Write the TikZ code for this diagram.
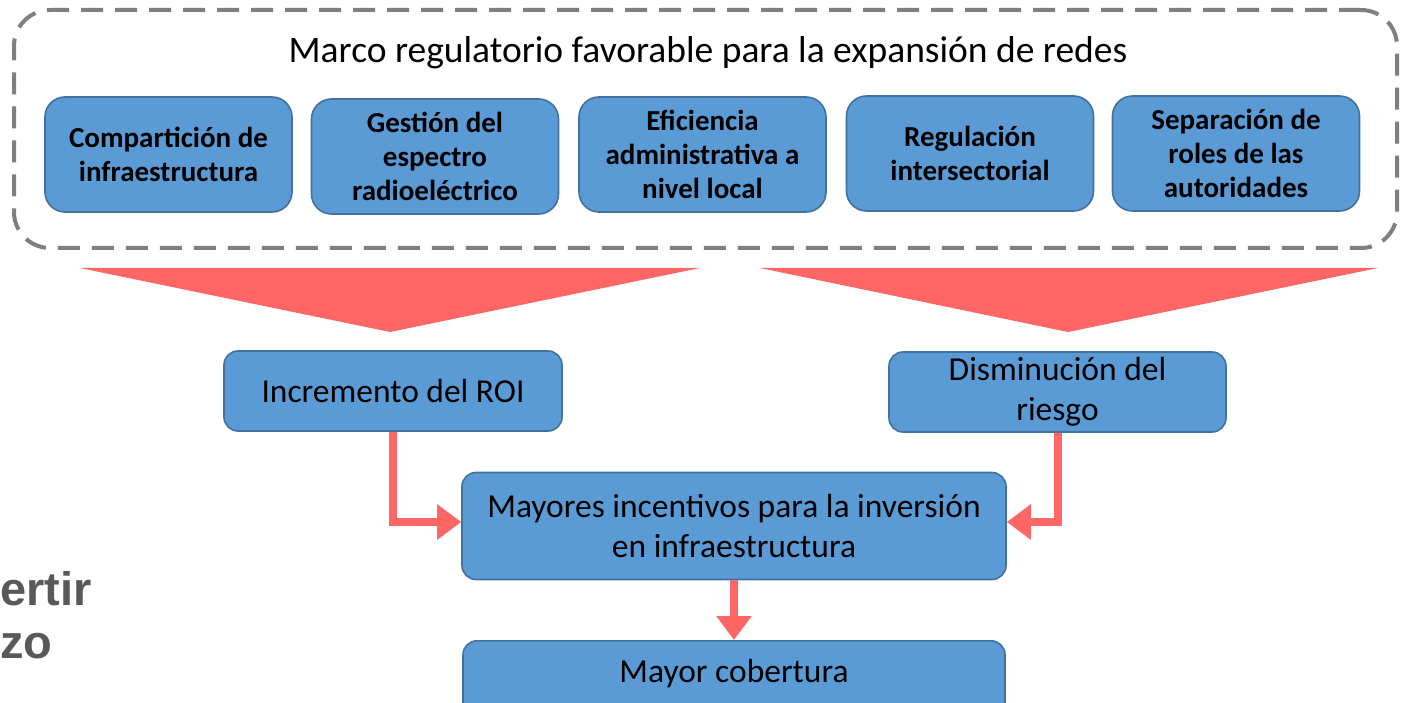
\documentclass[tikz,border=0pt]{standalone}
\usepackage{fontspec}
\setmainfont{Carlito}
\newfontfamily\arialbold{Liberation Sans}[BoldFont={* Bold}]
\usetikzlibrary{arrows.meta}
\definecolor{boxblue}{HTML}{5B9BD5}
\definecolor{boxedge}{HTML}{41719C}
\definecolor{arrowred}{HTML}{FF6666}
\definecolor{dashgray}{HTML}{7F7F7F}
\definecolor{slidegray}{HTML}{595959}
\tikzset{
  topbox/.style={draw=boxedge, fill=boxblue, line width=1.6pt, rounded corners=20pt,
    minimum width=247pt, minimum height=115pt, align=center, inner sep=2pt,
    font=\fontsize{29}{34}\selectfont\bfseries},
  midbox/.style={draw=boxedge, fill=boxblue, line width=1.6pt, rounded corners=14pt,
    align=center, inner sep=2pt, font=\fontsize{33.5}{40}\selectfont},
  frame/.style={draw=dashgray, line width=4pt, rounded corners=36pt, dash pattern=on 22pt off 12pt},
  redarrow/.style={draw=arrowred, line width=8pt, -{Triangle[width=34pt,length=24pt]}},
  bigtri/.style={fill=arrowred},
  slidetext/.style={font=\arialbold\bfseries\fontsize{47}{53}\selectfont, text=slidegray, anchor=base west, inner sep=0pt}
}
\begin{document}
\begin{tikzpicture}[x=1pt,y=-1pt]
\clip (0,0) rectangle (1401,703);
\fill[white] (0,0) rectangle (1401,703);

% dashed frame
\node[frame, minimum width=1383pt, minimum height=238pt] (frame) at (705.5,129) {};
\node[font=\fontsize{37.5}{44}\selectfont, anchor=base] (title) at (708,63) {Marco regulatorio favorable para la expansión de redes};

% top boxes
\node[topbox] (b1) at (168.5,154.5) {Compartición de\\infraestructura};
\node[topbox] (b2) at (435,156.5) {Gestión del\\espectro\\radioeléctrico};
\node[topbox] (b3) at (702.5,154.5) {Eficiencia\\administrativa a\\nivel local};
\node[topbox] (b4) at (970,153.5) {Regulación\\intersectorial};
\node[topbox] (b5) at (1236,153.5) {Separación de\\roles de las\\autoridades};

% big triangles
\coordinate (t1a) at (80,268);
\coordinate (t1b) at (700,268);
\coordinate (t1c) at (390,332);
\coordinate (t2a) at (760,268);
\coordinate (t2b) at (1378,268);
\coordinate (t2c) at (1068,332);
\fill[bigtri] (t1a) -- (t1b) -- (t1c) -- cycle;
\fill[bigtri] (t2a) -- (t2b) -- (t2c) -- cycle;

% middle boxes
\node[midbox, minimum width=338pt, minimum height=80pt] (roi) at (393,391) {Incremento del ROI};
\node[midbox, minimum width=337pt, minimum height=80pt] (riesgo) at (1057.5,392) {Disminución del\\riesgo};
\node[midbox, minimum width=544pt, minimum height=107pt] (inc) at (734,526) {Mayores incentivos para la inversión\\en infraestructura};
\node[midbox, minimum width=542pt, minimum height=90pt, anchor=north] (cob) at (734,640) {};
\node[font=\fontsize{33.5}{40}\selectfont] (cobtext) at (734,674) {Mayor cobertura};

% connectors
\draw[redarrow] (roi.south -| 393,0) |- (inc.west |- 0,522);
\draw[redarrow] (riesgo.south -| 1058,0) |- (inc.east |- 0,522);
\draw[redarrow] (inc.south) -- (cob.north);

% partial slide text
\node[slidetext] (s1) at (0,605) {ertir};
\node[slidetext] (s2) at (0,658) {zo};
\end{tikzpicture}
\end{document}
